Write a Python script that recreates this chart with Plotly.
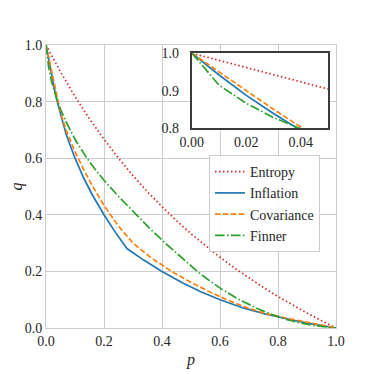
import plotly.graph_objects as go

# values
p_entropy = [0, 0.05, 0.10, 0.15, 0.20, 0.25, 0.30, 0.35, 0.40, 0.45, 0.50,
             0.55, 0.60, 0.65, 0.70, 0.75, 0.80, 0.85, 0.90, 0.95, 1.0]
q_entropy = [1.0, 0.905, 0.818, 0.739, 0.667, 0.600, 0.538, 0.481, 0.429, 0.379, 0.333,
             0.290, 0.250, 0.212, 0.176, 0.143, 0.111, 0.081, 0.053, 0.026, 0.0]

p_inflation = [0, 0.01, 0.02, 0.03, 0.04, 0.05, 0.07, 0.10, 0.13, 0.16, 0.20, 0.24, 0.28,
               0.337, 0.40, 0.47, 0.53, 0.60, 0.683, 0.755, 0.795, 0.84, 0.888, 0.942, 1.0]
q_inflation = [1.0, 0.942, 0.888, 0.84, 0.795, 0.755, 0.683, 0.60, 0.53, 0.47, 0.40, 0.337, 0.28,
               0.24, 0.20, 0.16, 0.13, 0.10, 0.07, 0.05, 0.04, 0.03, 0.02, 0.01, 0.0]

p_covariance = [0, 0.01, 0.02, 0.03, 0.04, 0.05, 0.07, 0.10, 0.13, 0.16, 0.20, 0.25, 0.30,
                0.36, 0.433, 0.502, 0.56, 0.623, 0.697, 0.762, 0.804, 0.851, 0.90, 0.95, 1.0]
q_covariance = [1.0, 0.95, 0.90, 0.851, 0.804, 0.762, 0.697, 0.623, 0.56, 0.502, 0.433, 0.36, 0.30,
                0.25, 0.20, 0.16, 0.13, 0.10, 0.07, 0.05, 0.04, 0.03, 0.02, 0.01, 0.0]

p_finner = [0, 0.01, 0.02, 0.03, 0.04, 0.05, 0.07, 0.10, 0.139, 0.17, 0.20, 0.25, 0.30, 0.355,
            0.411, 0.465, 0.522, 0.56, 0.603, 0.667, 0.727, 0.773, 0.799, 0.829, 0.867, 0.915, 1.0]
q_finner = [1.0, 0.915, 0.867, 0.829, 0.799, 0.773, 0.727, 0.667, 0.603, 0.56, 0.522, 0.465, 0.411, 0.355,
            0.30, 0.25, 0.20, 0.17, 0.139, 0.10, 0.07, 0.05, 0.04, 0.03, 0.02, 0.01, 0.0]

series = [
    ("Entropy", p_entropy, q_entropy, "#d62728", "1.5px,2.5px"),
    ("Inflation", p_inflation, q_inflation, "#1f77b4", "solid"),
    ("Covariance", p_covariance, q_covariance, "#ff7f0e", "5.5px,2.4px"),
    ("Finner", p_finner, q_finner, "#2ca02c", "9.6px,2.4px,1.5px,2.4px"),
]

FONT = "Liberation Serif, DejaVu Serif, serif"
TXT = "#262626"

fig = go.Figure()
for name, p, q, color, dash in series:
    fig.add_trace(go.Scatter(x=p, y=q, mode="lines", name=name,
                             line=dict(color=color, width=1.7, dash=dash)))
# same curves again, zoomed near the origin in the inset
for name, p, q, color, dash in series:
    fig.add_trace(go.Scatter(x=p, y=q, mode="lines", name=name, showlegend=False,
                             xaxis="x2", yaxis="y2",
                             line=dict(color=color, width=1.7, dash=dash)))

main_axis = dict(range=[0, 1], dtick=0.2, tickformat=".1f", showgrid=True,
                 gridcolor="#cccccc", gridwidth=1, zeroline=False, showline=True,
                 linecolor="#cccccc", linewidth=1, mirror=True, ticks="",
                 automargin=False, tickfont=dict(family=FONT, size=14, color=TXT))
inset_axis = dict(showgrid=False, zeroline=False, showline=True, linecolor="#3b3b3b",
                  linewidth=2, mirror=True, automargin=False,
                  tickfont=dict(family=FONT, size=14, color=TXT))

# the page body adds an 8px offset, margins are set to compensate
fig.update_layout(
    width=374, height=374,
    margin=dict(l=38, r=46, t=37, b=54, autoexpand=False),
    paper_bgcolor="white", plot_bgcolor="white",
    font=dict(family=FONT, size=14, color=TXT),
    xaxis=dict(main_axis, domain=[0, 1],
               title=dict(text="<i>p</i>", standoff=6, font=dict(family=FONT, size=16))),
    yaxis=dict(main_axis, domain=[0, 1],
               title=dict(text="<i>q</i>", standoff=10, font=dict(family=FONT, size=16))),
    xaxis2=dict(inset_axis, domain=[0.503, 0.972], anchor="y2", range=[0, 0.05],
                dtick=0.02, tickformat=".2f", ticks=""),
    yaxis2=dict(inset_axis, domain=[0.705, 0.971], anchor="x2", range=[0.8, 1.0],
                dtick=0.1, tickformat=".1f", ticks="outside", ticklen=8,
                tickcolor="rgba(0,0,0,0)"),
    legend=dict(x=0.562, y=0.611, xanchor="left", yanchor="top",
                bgcolor="rgba(255,255,255,0.85)", bordercolor="#cccccc", borderwidth=1,
                font=dict(family=FONT, size=14, color=TXT)),
    showlegend=True,
)

fig.write_html("out.html")
